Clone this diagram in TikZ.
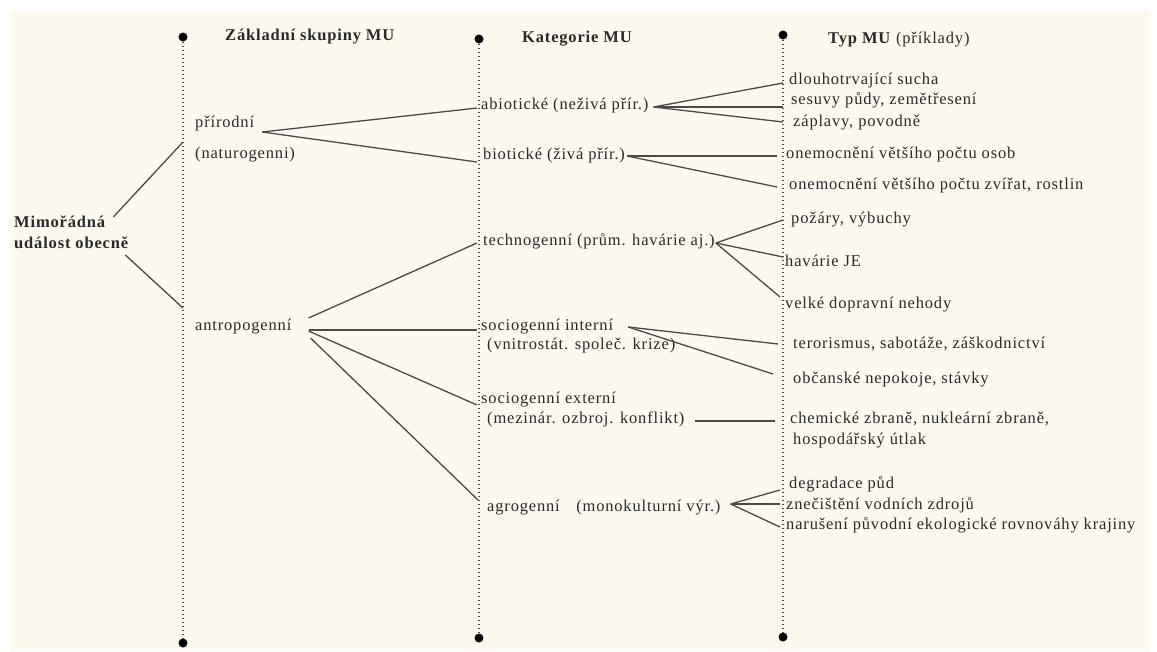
\documentclass[tikz,border=0pt]{standalone}
\usepackage{fontspec}
\setmainfont{Liberation Serif}[LetterSpace=5.0]
\definecolor{paper}{HTML}{FDF9EE}
\definecolor{ink}{HTML}{2A2A2A}
\definecolor{wire}{HTML}{4A4A4A}
\begin{document}
\begin{tikzpicture}[x=1pt,y=-1pt,
  lbl/.style={anchor=west,inner xsep=3pt,inner ysep=0pt,text=ink,
    font=\fontsize{16.5pt}{21pt}\selectfont,text height=0.7em,text depth=0.25em},
  hdr/.style={lbl,font=\fontsize{16.5pt}{21pt}\selectfont\bfseries},
  axisdot/.style={circle,fill=black,inner sep=0pt,minimum size=9pt},
  axisline/.style={draw=wire,line width=1.3pt,dash pattern=on 1.5pt off 2.5pt},
  wirel/.style={draw=wire,line width=1.3pt}]
\useasboundingbox (0,0) rectangle (1157,651);
\fill[white] (0,0) rectangle (1157,651);
\fill[paper] (10,11) rectangle (1150,651);

% axes
\node[axisdot] (a1t) at (183,37) {};
\node[axisdot] (a1b) at (183,643) {};
\node[axisdot] (a2t) at (479,39) {};
\node[axisdot] (a2b) at (479,638) {};
\node[axisdot] (a3t) at (783,35) {};
\node[axisdot] (a3b) at (783,637) {};
\path[axisline] (a1t) -- (a1b);
\path[axisline] (a2t) -- (a2b);
\path[axisline] (a3t) -- (a3b);

% headers
\node[hdr] (h1) at (222,38) {Základní skupiny MU};
\node[hdr] (h2) at (519,40) {Kategorie MU};
\node[lbl] (h3) at (825,41) {\textbf{Typ MU} (příklady)};

% root
\node[lbl,font=\fontsize{16.5pt}{21pt}\selectfont\bfseries,align=left,text height=,text depth=] (mim) at (11,232) {Mimořádná\\událost obecně};

% groups
\node[lbl] (prir) at (192,125) {přírodní};
\node[lbl] (natu) at (192,156) {(naturogenni)};
\node[lbl] (antr) at (192,328) {antropogenní};

% categories
\node[lbl] (abio) at (478,107) {abiotické (neživá přír.)};
\node[lbl] (bio) at (480,157) {biotické (živá přír.)};
\node[lbl] (tech) at (480,243) {technogenní (prům. havárie aj.)};
\node[lbl] (soci) at (478,328) {sociogenní interní};
\node[lbl] (socia) at (484,347) {(vnitrostát. společ. krize)};
\node[lbl] (soce) at (478,401) {sociogenní externí};
\node[lbl] (socea) at (484,421) {(mezinár. ozbroj. konflikt)};
\node[lbl] (agro) at (484,509) {agrogenní\quad(monokulturní výr.)};

% types
\node[lbl] (t1) at (786,82) {dlouhotrvající sucha};
\node[lbl] (t2) at (788,102) {sesuvy půdy, zemětřesení};
\node[lbl] (t3) at (790,124) {záplavy, povodně};
\node[lbl] (t4) at (783,156) {onemocnění většího počtu osob};
\node[lbl] (t5) at (786,187) {onemocnění většího počtu zvířat, rostlin};
\node[lbl] (t6) at (788,221) {požáry, výbuchy};
\node[lbl] (t7) at (782,264) {havárie JE};
\node[lbl] (t8) at (782,306) {velké dopravní nehody};
\node[lbl] (t9) at (790,346) {terorismus, sabotáže, záškodnictví};
\node[lbl] (t10) at (790,381) {občanské nepokoje, stávky};
\node[lbl] (t11) at (787,421) {chemické zbraně, nukleární zbraně,};
\node[lbl] (t12) at (790,442) {hospodářský útlak};
\node[lbl] (t13) at (786,486) {degradace půd};
\node[lbl] (t14) at (783,507) {znečištění vodních zdrojů};
\node[lbl] (t15) at (783,527) {narušení původní ekologické rovnováhy krajiny};

% connectors: root
\path[wirel] ([xshift=-18pt,yshift=15pt]mim.east) -- ([xshift=-9pt,yshift=-17pt]prir.west);
\path[wirel] ([xshift=-6pt,yshift=-23pt]mim.east) -- ([xshift=-9pt,yshift=20pt]antr.west);

% prirodni
\path[wirel] ([xshift=5pt,yshift=-7pt]prir.east) -- ([xshift=-1pt,yshift=-1pt]abio.west);
\path[wirel] ([xshift=5pt,yshift=-7pt]prir.east) -- ([xshift=-3pt,yshift=-5pt]bio.west);

% antropogenni
\path[wirel] ([xshift=14pt,yshift=10pt]antr.east) -- ([xshift=-3pt]tech.west);
\path[wirel] ([xshift=14pt,yshift=-2pt]antr.east) -- ([xshift=-1pt,yshift=-2pt]soci.west);
\path[wirel] ([xshift=14pt,yshift=-3pt]antr.east) -- ([xshift=-1pt,yshift=-4pt]soce.west);
\path[wirel] ([xshift=16pt,yshift=-10pt]antr.east) -- ([xshift=-6pt,yshift=9pt]agro.west);

% abiotic
\path[wirel] ([xshift=2pt]abio.east) -- ([xshift=-3pt,yshift=-1pt]t1.west);
\path[wirel] ([xshift=2pt]abio.east) -- ([xshift=-5pt,yshift=-5pt]t2.west);
\path[wirel] ([xshift=2pt]abio.east) -- ([xshift=-7pt,yshift=2pt]t3.west);

% biotic
\path[wirel] ([xshift=-1pt,yshift=1pt]bio.east) -- ([xshift=-6pt]t4.west);
\path[wirel] ([xshift=-1pt,yshift=1pt]bio.east) -- ([xshift=-9pt]t5.west);

% technogenni
\path[wirel] ([xshift=-2pt]tech.east) -- ([xshift=-5pt,yshift=1pt]t6.west);
\path[wirel] ([xshift=-2pt]tech.east) -- ([xshift=1pt,yshift=7pt]t7.west);
\path[wirel] ([xshift=-2pt]tech.east) -- ([xshift=-2pt,yshift=9pt]t8.west);

% sociogenni interni
\path[wirel] ([xshift=12pt,yshift=1pt]soci.east) -- ([xshift=-12pt,yshift=2pt]t9.west);
\path[wirel] ([xshift=12pt,yshift=1pt]soci.east) -- ([xshift=-17pt,yshift=7pt]t10.west);

% sociogenni externi
\path[wirel] ([xshift=7pt]socea.east) -- ([xshift=-12pt]t11.west);

% agrogenni
\path[wirel] ([xshift=7pt,yshift=5pt]agro.east) -- ([xshift=-6pt,yshift=-4pt]t13.west);
\path[wirel] ([xshift=7pt,yshift=5pt]agro.east) -- ([xshift=-3pt,yshift=3pt]t14.west);
\path[wirel] ([xshift=7pt,yshift=5pt]agro.east) -- ([xshift=-3pt]t15.west);
\end{tikzpicture}
\end{document}
